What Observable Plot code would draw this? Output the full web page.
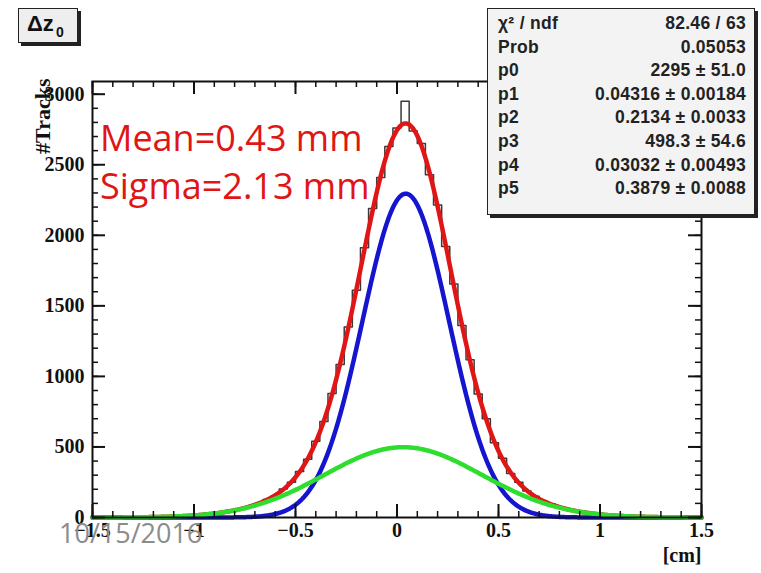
<!DOCTYPE html>
<html>
<head>
<meta charset="utf-8">
<script src="https://cdn.jsdelivr.net/npm/d3@7"></script>
<script src="https://cdn.jsdelivr.net/npm/@observablehq/plot@0.6"></script>
<style>
  html, body { margin: 0; padding: 0; background: #fff; }
  #wrap { position: relative; width: 761px; height: 573px; overflow: hidden; background: #fff; }
  #wrap svg { position: absolute; left: 0; top: 0; }
  .ov { position: absolute; white-space: nowrap; }
  #titlebox { left: 18px; top: 8px; width: 58px; height: 33px; background: #eeeeee; border: 1.5px solid #222;
    box-shadow: 3px 3px 0 #222; font-family: "Liberation Sans", Arial, sans-serif; font-weight: bold; font-size: 22px; color: #111; }
  #titlebox span.main { position: absolute; left: 8px; top: 2px; }
  #titlebox span.sub { position: absolute; left: 37px; top: 15px; font-size: 14px; }
  #stats { left: 487px; top: 8px; width: 266px; height: 205px; background: #f3f3f3; border: 1.5px solid #222;
    box-shadow: 3px 3px 0 #222; font-family: "Liberation Sans", Arial, sans-serif; font-weight: bold; font-size: 17.5px; color: #222; letter-spacing: 0.3px; }
  #stats .row { position: absolute; left: 10px; right: 8px; height: 22px; line-height: 22px; }
  #stats .row .l { position: absolute; left: 0; }
  #stats .row .r { position: absolute; right: 0; }
  .redtxt { font-family: "Open Sans", sans-serif; font-size: 36px; color: #e01515; line-height: 40px; }
  #datetxt { left: 59px; top: 515px; font-family: "Open Sans", sans-serif; font-size: 27px; color: #8c8c8c; line-height: 36px; }
</style>
</head>
<body>
<div id="wrap"></div>
<script>
// ---- data ----
const binStart = -1.5;
const binWidth = 0.04;
const counts = [
  0, 1, 0, 1, 2, 1, 3, 4, 5, 7, 8, 12, 14, 20, 24, 33, 40, 52, 63, 82,
  99, 128, 155, 202, 250, 326, 412, 540, 680, 878, 1085, 1350, 1610, 1912, 2190, 2410, 2630, 2760,
  2950, 2740, 2650, 2430, 2215, 1920, 1655, 1360, 1118, 876, 700, 530, 420, 312, 250, 188,
  151, 116, 95, 72, 60, 45, 37, 27, 23, 16, 13, 9, 7, 5, 4, 3, 2, 1, 1, 0, 1
];
// fit parameters shown in the stats box (double Gaussian)
const narrowGauss = [2295, 0.04316, 0.2134];   // p0, p1, p2
const wideGauss = [498.3, 0.03032, 0.3879];    // p3, p4, p5
const statLabels = ["χ² / ndf", "Prob", "p0", "p1", "p2", "p3", "p4", "p5"];
const statValues = ["82.46 / 63", "0.05053", "2295 ± 51.0", "0.04316 ± 0.00184", "0.2134 ± 0.0033",
                    "498.3 ± 54.6", "0.03032 ± 0.00493", "0.3879 ± 0.0088"];
const xMajor = [-1.5, -1, -0.5, 0, 0.5, 1, 1.5];
const yMajor = [0, 500, 1000, 1500, 2000, 2500, 3000];
const xDomain = [-1.5, 1.5];
const yDomain = [0, 3090];
const annotations = ["Mean=0.43 mm", "Sigma=2.13 mm"];
const dateText = "10/15/2016";

// ---- derived tables ----
const hist = counts.map((c, i) => ({x: binStart + i * binWidth, y: c}));
hist.push({x: binStart + counts.length * binWidth, y: counts[counts.length - 1]});
const gauss = ([a, m, s], x) => a * Math.exp(-0.5 * ((x - m) / s) ** 2);
const xs = d3.range(0, 601).map(i => xDomain[0] + i * (xDomain[1] - xDomain[0]) / 600);
const fitNarrow = xs.map(x => ({x, y: gauss(narrowGauss, x)}));
const fitWide = xs.map(x => ({x, y: gauss(wideGauss, x)}));
const fitSum = xs.map((x, i) => ({x, y: fitNarrow[i].y + fitWide[i].y}));
const xMinor = d3.range(0, 31).map(i => -1.5 + i * 0.1);
const yMinor = d3.range(0, 31).map(i => i * 100);

const fmt = d => d < 0 ? "\u2212" + Math.abs(d) : String(d);
const tickFont = {fontFamily: "Liberation Serif, serif", fontWeight: "bold", fontSize: 20};

// layout
const W = 761, H = 573, ML = 92, MR = 60, MT = 81, MB = 56;
const IW = W - ML - MR, IH = H - MT - MB;
const MJ = 13, MN = 6;
const perPxX = (xDomain[1] - xDomain[0]) / IW;
const perPxY = (yDomain[1] - yDomain[0]) / IH;

// tick rules (inward, ROOT style) built from tick arrays
function yTicks(vals, len, w) {
  return [
    Plot.ruleY(vals, {y: d => d, x1: xDomain[0], x2: xDomain[0] + len * perPxX, stroke: "#111", strokeWidth: w}),
    Plot.ruleY(vals, {y: d => d, x1: xDomain[1] - len * perPxX, x2: xDomain[1], stroke: "#111", strokeWidth: w})
  ];
}
function xTicks(vals, len, w) {
  return [
    Plot.ruleX(vals, {x: d => d, y1: yDomain[0], y2: yDomain[0] + len * perPxY, stroke: "#111", strokeWidth: w}),
    Plot.ruleX(vals, {x: d => d, y1: yDomain[1] - len * perPxY, y2: yDomain[1], stroke: "#111", strokeWidth: w})
  ];
}

const chart = Plot.plot({
  width: W, height: H,
  marginLeft: ML, marginRight: MR, marginTop: MT, marginBottom: MB,
  x: {domain: xDomain, label: null},
  y: {domain: yDomain, label: null},
  style: {background: "transparent", color: "#111"},
  marks: [
    Plot.line(hist, {x: "x", y: "y", curve: "step-after", stroke: "#3a3a3a", strokeWidth: 1.5}),
    Plot.line(fitSum, {x: "x", y: "y", stroke: "#e01515", strokeWidth: 4.5}),
    Plot.line(fitNarrow, {x: "x", y: "y", stroke: "#1515d0", strokeWidth: 4.5}),
    Plot.line(fitWide, {x: "x", y: "y", stroke: "#2ede2e", strokeWidth: 4.5}),
    Plot.frame({stroke: "#111", strokeWidth: 2}),
    // tick labels
    Plot.axisY(yMajor, {anchor: "left", tickSize: 0, tickPadding: 8, tickFormat: fmt, label: null, ...tickFont}),
    Plot.axisX(xMajor, {anchor: "bottom", tickSize: 0, tickPadding: 5, tickFormat: fmt, label: null, ...tickFont}),
    // axis titles
    Plot.text(["#Tracks"], {text: d => d, frameAnchor: "top-left", dx: -58, dy: -3, rotate: -90,
      textAnchor: "end", ...tickFont, fontSize: 22}),
    Plot.text(["[cm]"], {text: d => d, frameAnchor: "bottom-right", dx: 0, dy: 44, textAnchor: "end", ...tickFont}),
    // inward ticks
    ...yTicks(yMajor, MJ, 2),
    ...yTicks(yMinor, MN, 1.5),
    ...xTicks(xMajor, MJ, 2),
    ...xTicks(xMinor, MN, 1.5)
  ]
});

const wrap = document.getElementById("wrap");
wrap.appendChild(chart);

// title box
const tb = document.createElement("div");
tb.className = "ov"; tb.id = "titlebox";
tb.innerHTML = '<span class="main">Δz</span><span class="sub">0</span>';
wrap.appendChild(tb);

// stats box
const st = document.createElement("div");
st.className = "ov"; st.id = "stats";
statLabels.forEach((l, i) => {
  const r = document.createElement("div");
  r.className = "row";
  r.style.top = (3 + i * 23.6) + "px";
  const a = document.createElement("span"); a.className = "l"; a.textContent = l;
  const b = document.createElement("span"); b.className = "r"; b.textContent = statValues[i];
  r.appendChild(a); r.appendChild(b); st.appendChild(r);
});
wrap.appendChild(st);

// red annotations
annotations.forEach((t, i) => {
  const d = document.createElement("div");
  d.className = "ov redtxt";
  d.style.left = "100px";
  d.style.top = (118 + i * 48) + "px";
  d.textContent = t;
  wrap.appendChild(d);
});

// date
const dt = document.createElement("div");
dt.className = "ov"; dt.id = "datetxt";
dt.textContent = dateText;
wrap.appendChild(dt);
</script>
</body>
</html>
